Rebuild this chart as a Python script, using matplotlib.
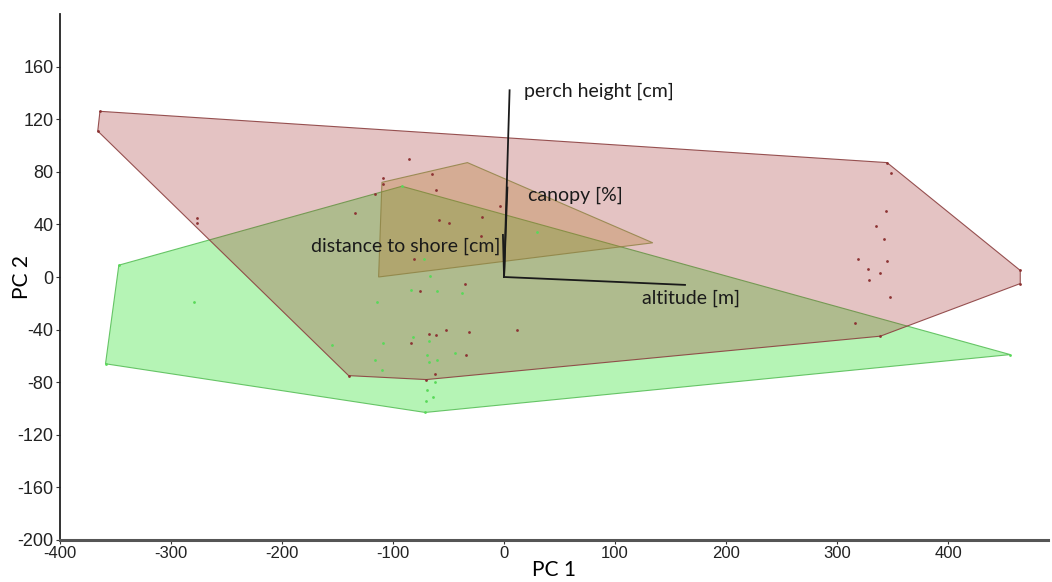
import matplotlib
matplotlib.use("Agg")
import matplotlib.pyplot as plt
from matplotlib.patches import Polygon
import numpy as np

# ---- data ----
red_x = [-364, -366, -140, -70, 339, 465, 465, 345,
         -277, -277, -134, -116, -109, -109, -86, -65, -61, -4, -20, -59, -50, -21,
         -81, -35, -76, -68, -61, -52, -32, 12, -84, -34, -62,
         349, 344, 335, 342, 319, 345, 328, 339, 329, 348, 316]
red_y = [126, 111, -75, -78, -45, -5, 5, 87,
         45, 41, 49, 63, 75, 71, 90, 78, 66, 54, 46, 43, 41, 31,
         14, -5, -11, -43, -44, -40, -42, -40, -50, -59, -74,
         79, 50, 39, 29, 14, 12, 6, 3, -2, -15, -35]

green_x = [-347, -359, -71, 456, -92,
           -279, -67, -72, -84, -60, -38, -114, -82, -68, -109, -116, -110,
           -68, -60, -44, -69, -62, -69, -64, -70, -155, 30]
green_y = [9, -66, -103, -59, 69,
           -19, 1, 14, -10, -11, -12, -19, -46, -49, -50, -63, -71,
           -65, -63, -58, -59, -80, -86, -91, -94, -52, 34]

brown_x = [-110, -33, 134, -113]
brown_y = [72, 87, 26, 0]

load_names = ["perch height [cm]", "canopy [%]", "distance to shore [cm]", "altitude [m]"]
load_x = [5, 3, -1, 163]
load_y = [142, 68, 32, -6]

x_ticks = [-400, -300, -200, -100, 0, 100, 200, 300, 400]
y_ticks = [-200, -160, -120, -80, -40, 0, 40, 80, 120, 160]


def hull(xs, ys):
    pts = sorted(set(zip(xs, ys)))
    def cross(o, a, b):
        return (a[0]-o[0])*(b[1]-o[1]) - (a[1]-o[1])*(b[0]-o[0])
    lower, upper = [], []
    for p in pts:
        while len(lower) >= 2 and cross(lower[-2], lower[-1], p) <= 0:
            lower.pop()
        lower.append(p)
    for p in reversed(pts):
        while len(upper) >= 2 and cross(upper[-2], upper[-1], p) <= 0:
            upper.pop()
        upper.append(p)
    return np.array(lower[:-1] + upper[:-1])


fig = plt.figure(figsize=(10.52, 5.82), dpi=100)
ax = fig.add_axes([60/1052, 42/582, 988/1052, 526/582])
ax.set_xlim(-400, 490)
ax.set_ylim(-200, 200)

# hulls
ax.add_patch(Polygon(hull(green_x, green_y), closed=True,
                     facecolor=(0.0, 0.86, 0.0, 0.29), edgecolor=(0.35, 0.75, 0.35, 0.9), lw=0.8, zorder=1))
ax.add_patch(Polygon(hull(red_x, red_y), closed=True,
                     facecolor=(0.63, 0.16, 0.16, 0.28), edgecolor=(0.55, 0.25, 0.25, 0.9), lw=0.8, zorder=2))
ax.add_patch(Polygon(hull(brown_x, brown_y), closed=True,
                     facecolor=(0.71, 0.47, 0.16, 0.30), edgecolor=(0.55, 0.5, 0.25, 0.8), lw=0.8, zorder=3))

ax.scatter(green_x, green_y, s=4, color=(0.35, 0.85, 0.35), zorder=4, linewidths=0)
ax.scatter(red_x, red_y, s=4, color=(0.55, 0.2, 0.2), zorder=4, linewidths=0)

# biplot loadings
label_off = [(13, -1), (19, -6), (-2, -9), (-39, -10)]
label_ha = ["left", "left", "right", "left"]
for name, lx, ly, off, ha in zip(load_names, load_x, load_y, label_off, label_ha):
    ax.plot([0, lx], [0, ly], color="#1a1a1a", lw=1.3, zorder=5)
    ax.text(lx + off[0], ly + off[1], name, ha=ha, va="center",
            fontsize=14, family="Lato", color="#1a1a1a", zorder=6)

# axes styling
for s in ["top", "right"]:
    ax.spines[s].set_visible(False)
ax.spines["left"].set_color("#222222")
ax.spines["left"].set_linewidth(1.3)
ax.spines["bottom"].set_color("#555555")
ax.spines["bottom"].set_linewidth(2.2)

ax.set_xticks(x_ticks)
ax.set_xticklabels([str(v) for v in x_ticks], family="Liberation Sans", fontsize=12)
ax.set_yticks(y_ticks)
ax.set_yticklabels([str(v) for v in y_ticks], family="Liberation Sans", fontsize=13)
ax.tick_params(axis="both", length=3, width=0.8, color="#333333", pad=1.5, labelcolor="#222222")

ax.set_xlabel("PC 1", family="Lato", fontsize=15)
ax.set_ylabel("PC 2", family="Lato", fontsize=15)
ax.xaxis.set_label_coords(0.5, -0.038)
ax.yaxis.set_label_coords(-0.028, 0.5)

fig.savefig("out.png", dpi=100)
